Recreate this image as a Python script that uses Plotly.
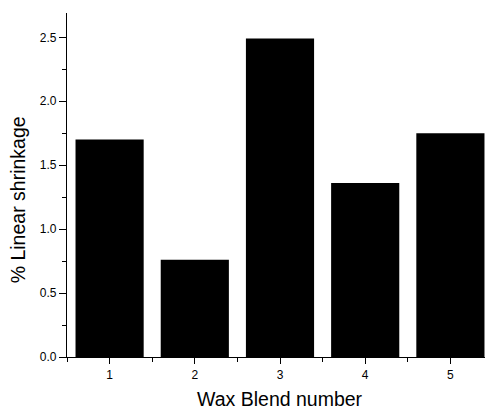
import plotly.graph_objects as go

blends = [1, 2, 3, 4, 5]
shrinkage = [1.70, 0.76, 2.49, 1.36, 1.75]
y_ticks = [0.0, 0.5, 1.0, 1.5, 2.0, 2.5]
y_tick_labels = ["0.0", "0.5", "1.0", "1.5", "2.0", "2.5"]

FONT = "Liberation Sans, Arial, sans-serif"

fig = go.Figure(go.Bar(x=blends, y=shrinkage, width=0.8,
                       marker=dict(color="black", line=dict(width=0))))

# page body has an 8px default margin; figure is sized to fit the window
fig.update_layout(
    width=485, height=401,
    margin=dict(l=59, r=0, t=5, b=52),
    plot_bgcolor="white", paper_bgcolor="white",
    showlegend=False,
    font=dict(family=FONT, color="black"),
    annotations=[
        dict(text="% Linear shrinkage", xref="paper", yref="paper",
             x=-0.113, y=0.458, xanchor="center", yanchor="middle",
             textangle=-90, showarrow=False, font=dict(size=19.5, family=FONT)),
        dict(text="Wax Blend number", xref="paper", yref="paper",
             x=0.5, y=-0.123, xanchor="center", yanchor="middle",
             showarrow=False, font=dict(size=19.5, family=FONT)),
    ],
)

fig.update_xaxes(
    range=[0.5, 5.5], tickmode="array", tickvals=blends,
    ticks="outside", ticklen=6, tickwidth=1.2, tickcolor="black",
    showline=True, linecolor="black", linewidth=1.2,
    showgrid=False, zeroline=False,
    tickfont=dict(size=12, family=FONT),
    minor=dict(ticks="outside", ticklen=4, tickwidth=1.2, tickcolor="black",
               tickvals=[0.5, 1.5, 2.5, 3.5, 4.5, 5.5], showgrid=False),
)
fig.update_yaxes(
    range=[0, 2.69], tickmode="array", tickvals=y_ticks, ticktext=y_tick_labels,
    ticks="outside", ticklen=7, tickwidth=1.2, tickcolor="black",
    showline=True, linecolor="black", linewidth=1.2,
    showgrid=False, zeroline=False,
    tickfont=dict(size=12, family=FONT),
    minor=dict(ticks="outside", ticklen=4, tickwidth=1.2, tickcolor="black",
               dtick=0.25, showgrid=False),
)

fig.write_html("out.html")
